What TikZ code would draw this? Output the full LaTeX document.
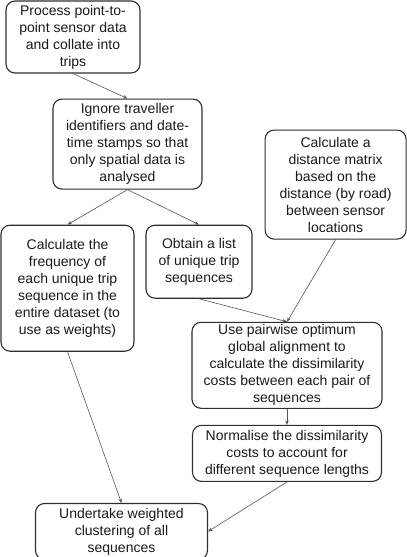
\documentclass[tikz,border=0pt]{standalone}
\usepackage{fontspec}
\setmainfont{Liberation Sans}
\usepackage{xcolor}
\usepackage{tikz}
\usetikzlibrary{arrows.meta, positioning}

\definecolor{boxgray}{HTML}{2E2E2E}
\definecolor{linegray}{HTML}{555555}
\definecolor{textgray}{HTML}{1A1A1A}

\begin{document}
\begin{tikzpicture}[
    stepbox/.style={rectangle, draw=boxgray, line width=1.1pt, rounded corners=9pt, align=center, text=textgray, inner sep=1pt, font=\fontsize{14pt}{17pt}\selectfont},
    arrow/.style={-{Stealth[length=4.5pt, width=3.5pt]}, line width=0.6pt, draw=linegray},
]
\useasboundingbox (0pt,0pt) rectangle (407pt,-557pt);

% Row 1: Process
\node[stepbox, minimum width=134pt, minimum height=72pt] (proc) at (73pt,-37pt) {Process point-to-\\point sensor data\\and collate into\\trips};

% Row 2: Ignore identifiers
\node[stepbox, minimum width=149pt, minimum height=90pt, below=25pt of proc, xshift=54.5pt] (ignore) {Ignore traveller\\identifiers and date-\\time stamps so that\\only spatial data is\\analysed};
\draw[arrow] (proc.south) -- (ignore.north);

% Right: distance matrix
\node[stepbox, minimum width=141pt, minimum height=109pt, right=62pt of ignore, yshift=-40.5pt] (dist) {Calculate a\\distance matrix\\based on the\\distance (by road)\\between sensor\\locations};

% Row 3: frequency and list
\node[stepbox, minimum width=133pt, minimum height=126pt, below=35pt of ignore, xshift=-60pt] (freq) {Calculate the\\frequency of\\each unique trip\\sequence in the\\entire dataset (to\\use as weights)};
\draw[arrow] (ignore.south) -- (freq.north);

\node[stepbox, minimum width=106pt, minimum height=73pt, below=35pt of ignore, xshift=71.5pt] (list) {Obtain a list\\of unique trip\\sequences};
\draw[arrow] (ignore.south) -- (list.north);

% Row 4: alignment and normalisation
\node[stepbox, minimum width=190pt, minimum height=86pt, below=23pt of list, xshift=88pt] (align) {Use pairwise optimum\\global alignment to\\calculate the dissimilarity\\costs between each pair of\\sequences};
\draw[arrow] (list.south) -- (align.north);
\draw[arrow] (dist.south) -- (align.north);

\node[stepbox, minimum width=189pt, minimum height=56pt, below=16pt of align] (norm) {Normalise the dissimilarity\\costs to account for\\different sequence lengths};
\draw[arrow] (align.south) -- (norm.north);

% Bottom: clustering
\node[stepbox, minimum width=172pt, minimum height=56pt, below=21pt of norm, xshift=-165.5pt] (clust) {Undertake weighted\\clustering of all\\sequences};
\draw[arrow] (freq.south) -- (clust.north);
\draw[arrow] (norm.south) -- (clust.east);
\end{tikzpicture}
\end{document}
